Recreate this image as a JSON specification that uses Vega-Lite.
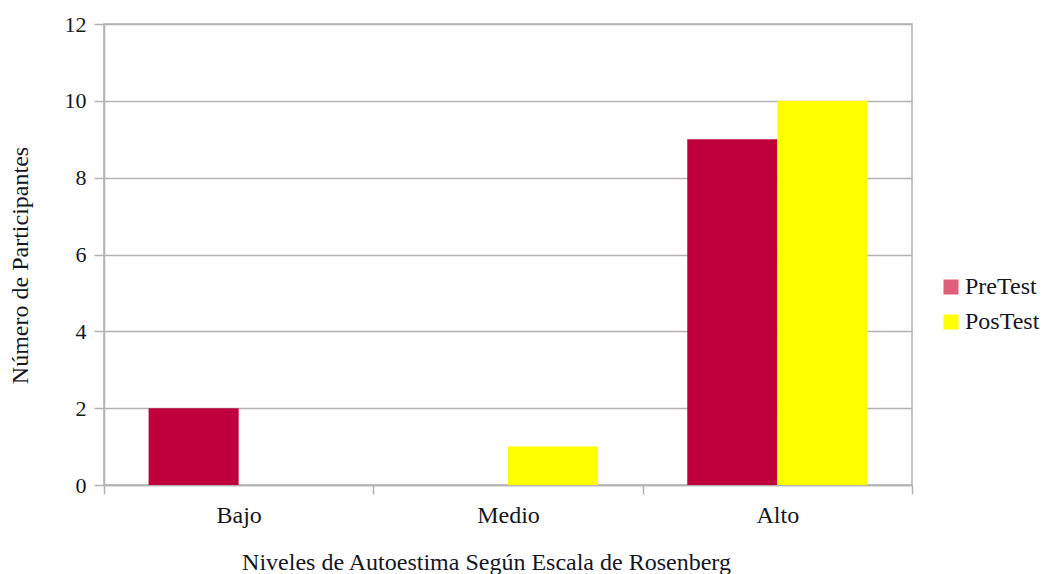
{
  "$schema": "https://vega.github.io/schema/vega-lite/v6.json",
  "autosize": {"type": "none"},
  "width": 808,
  "height": 461,
  "padding": {"left": 104, "top": 24, "right": 131, "bottom": 89},
  "background": "white",
  "config": {
    "font": "Liberation Serif",
    "view": {"stroke": "#b3b3b3", "strokeWidth": 1.5},
    "axis": {
      "labelFont": "Liberation Serif",
      "titleFont": "Liberation Serif",
      "labelColor": "#16161f",
      "titleColor": "#16161f",
      "titleFontWeight": "normal",
      "domainColor": "#b3b3b3",
      "domainWidth": 1.5,
      "tickColor": "#b3b3b3",
      "tickWidth": 1.5,
      "gridColor": "#b3b3b3",
      "gridWidth": 1.5
    },
    "legend": {
      "labelFont": "Liberation Serif",
      "labelColor": "#16161f"
    }
  },
  "data": {
    "values": [
      {"nivel": "Bajo", "prueba": "PreTest", "participantes": 2},
      {"nivel": "Bajo", "prueba": "PosTest", "participantes": 0},
      {"nivel": "Medio", "prueba": "PreTest", "participantes": 0},
      {"nivel": "Medio", "prueba": "PosTest", "participantes": 1},
      {"nivel": "Alto", "prueba": "PreTest", "participantes": 9},
      {"nivel": "Alto", "prueba": "PosTest", "participantes": 10}
    ]
  },
  "encoding": {
    "x": {
      "field": "nivel",
      "type": "nominal",
      "sort": ["Bajo", "Medio", "Alto"],
      "scale": {"paddingInner": 0, "paddingOuter": 0},
      "axis": {
        "title": "Niveles de Autoestima Según Escala de Rosenberg",
        "titleFontSize": 24,
        "titleX": 382,
        "titleY": 77,
        "titleBaseline": "middle",
        "titleAlign": "center",
        "labelAngle": 0,
        "labelFontSize": 24,
        "labelPadding": 9,
        "labelBaseline": "top",
        "tickSize": 9,
        "tickBand": "extent",
        "grid": false
      }
    },
    "xOffset": {
      "field": "prueba",
      "type": "nominal",
      "sort": ["PreTest", "PosTest"],
      "scale": {"paddingInner": 0, "paddingOuter": 0.495}
    },
    "y": {
      "field": "participantes",
      "type": "quantitative",
      "scale": {"domain": [0, 12]},
      "axis": {
        "title": "Número de Participantes",
        "titleFontSize": 24,
        "titleAngle": -90,
        "titleX": -84,
        "titleY": 241,
        "titleBaseline": "middle",
        "titleAlign": "center",
        "values": [0, 2, 4, 6, 8, 10, 12],
        "labelFontSize": 22,
        "labelPadding": 8,
        "tickSize": 10,
        "grid": true
      }
    }
  },
  "layer": [
    {
      "mark": {"type": "bar", "stroke": null, "opacity": 0},
      "encoding": {
        "fill": {
          "field": "prueba",
          "type": "nominal",
          "scale": {"domain": ["PreTest", "PosTest"], "range": ["#de5f77", "#ffff00"]},
          "legend": {
            "title": null,
            "orient": "none",
            "legendX": 835,
            "legendY": 251,
            "symbolType": "square",
            "symbolSize": 225,
            "symbolStrokeWidth": 0,
            "symbolOpacity": 1,
            "labelFontSize": 24,
            "labelOffset": 2,
            "rowPadding": 11
          }
        }
      }
    },
    {
      "mark": {"type": "bar", "stroke": null},
      "encoding": {
        "color": {
          "field": "prueba",
          "type": "nominal",
          "scale": {"domain": ["PreTest", "PosTest"], "range": ["#c0003c", "#ffff00"]},
          "legend": null
        }
      }
    }
  ]
}
